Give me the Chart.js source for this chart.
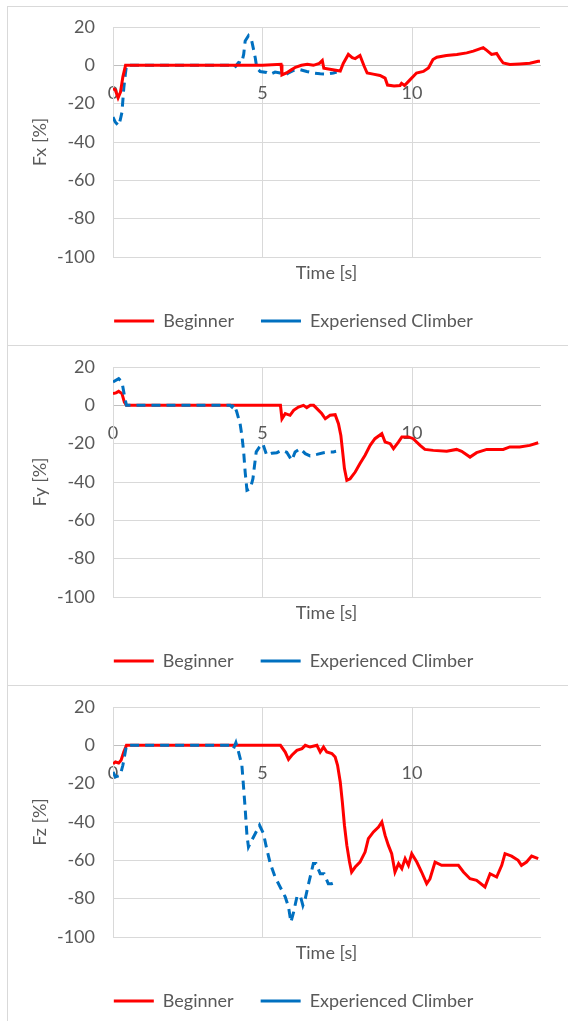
<!DOCTYPE html>
<html>
<head>
<meta charset="utf-8">
<script src="https://cdn.jsdelivr.net/npm/chart.js@4.4.1/dist/chart.umd.min.js"></script>
<style>
  html, body { margin: 0; padding: 0; background: #fff; overflow: hidden; }
  body { width: 568px; height: 1021px; position: relative; }
  .panel { position: absolute; left: 7px; width: 620px; border: 1px solid #d9d9d9; box-sizing: border-box; }
  canvas { position: absolute; left: 0; }
</style>
</head>
<body>
<div class="panel" style="top:6px;height:340px"></div>
<div class="panel" style="top:345px;height:341px"></div>
<div class="panel" style="top:685px;height:400px"></div>
<canvas id="fxChart" width="568" height="340" style="top:5px"></canvas>
<canvas id="fyChart" width="568" height="340" style="top:345px"></canvas>
<canvas id="fzChart" width="568" height="340" style="top:685px"></canvas>
<script>
// axes
var timeMin = 0;
var timeMax = 14.28;
var timeTicks = [0, 5, 10];
var forceMin = -100;
var forceMax = 20;
var forceStep = 20;

// legend names (panel 1 has the typo in the original)
var beginnerName = 'Beginner';
var expNameFx = 'Experiensed Climber';
var expNameFyz = 'Experienced Climber';

// Fx
var fxBeginnerT = [0, 0.08, 0.17, 0.25, 0.33, 0.42, 1, 2, 3, 4, 5, 5.62, 5.65, 5.8, 5.95, 6.1, 6.3, 6.5, 6.7, 6.9, 7.0, 7.05, 7.35, 7.6, 7.7, 7.87, 8.0, 8.1, 8.26, 8.4, 8.5, 8.7, 8.93, 9.1, 9.18, 9.4, 9.6, 9.65, 9.75, 9.93, 10.15, 10.38, 10.55, 10.7, 10.83, 11.15, 11.5, 11.83, 12.05, 12.38, 12.5, 12.66, 12.83, 12.94, 13.05, 13.27, 13.6, 13.94, 14.22, 14.28];
var fxBeginnerV = [-12, -13, -17, -14, -6, 0, 0, 0, 0, 0, 0, 0.5, -5, -4, -2.5, -1, 0, 0.5, 0, 1, 2.5, -1.5, -2.3, -3, 1, 5.7, 4, 3.5, 5.1, -0.5, -4, -4.6, -5.3, -6.7, -10.3, -10.8, -10.5, -9.4, -10.5, -7.6, -4, -3.2, -1.4, 3, 4.2, 5.1, 5.7, 6.5, 7.4, 9.2, 7.8, 5.7, 6.2, 3.5, 1.2, 0.4, 0.7, 1.1, 2.1, 2.2];
var fxExpT = [0, 0.08, 0.19, 0.25, 0.3, 0.36, 0.41, 0.45, 1, 2, 3, 3.9, 4.0, 4.1, 4.2, 4.3, 4.37, 4.42, 4.53, 4.64, 4.7, 4.76, 4.81, 4.92, 5.14, 5.26, 5.42, 5.59, 5.76, 5.87, 6.04, 6.26, 6.48, 6.7, 6.93, 7.15, 7.37, 7.48];
var fxExpV = [-27, -29.7, -31.5, -28, -24.4, -12, -5, 0, 0, 0, 0, 0, 0.8, -0.5, 1.5, 1, 5.7, 12.7, 15.4, 12.7, 8.3, 3.7, -1.4, -3.2, -3.7, -4.6, -3.5, -4, -5, -4, -2.7, -2.3, -3.2, -4, -4.4, -4.6, -4, -3.5];

// Fy
var fyBeginnerT = [0, 0.1, 0.19, 0.3, 0.38, 0.45, 1, 2, 3, 4, 5, 5.6, 5.65, 5.76, 5.92, 6.04, 6.2, 6.37, 6.48, 6.6, 6.71, 6.82, 6.98, 7.1, 7.26, 7.43, 7.54, 7.62, 7.68, 7.74, 7.82, 7.93, 8.1, 8.26, 8.43, 8.6, 8.76, 8.99, 9.1, 9.27, 9.38, 9.55, 9.66, 9.88, 10.04, 10.27, 10.43, 10.71, 11.16, 11.49, 11.66, 11.94, 12.16, 12.5, 12.83, 13.05, 13.27, 13.6, 13.94, 14.22];
var fyBeginnerV = [6.1, 6.5, 7.3, 6.1, 1.7, 0, 0, 0, 0, 0, 0, 0, -7, -4.3, -5.2, -2.6, -0.9, 0, -1.2, 0, 0, -1.7, -4.3, -7, -5.2, -4.9, -9.6, -15.7, -24.3, -33, -39.1, -38.3, -34.8, -30.4, -26, -20.9, -17.4, -14.8, -19.1, -20, -22.6, -19.1, -16.5, -16.5, -17.4, -20.9, -23, -23.5, -24, -23, -24, -27, -24.7, -23, -23, -23, -21.7, -21.7, -20.9, -19.5];
var fyExpT = [0, 0.19, 0.3, 0.38, 0.45, 1, 2, 3, 3.92, 3.98, 4.05, 4.14, 4.25, 4.31, 4.37, 4.42, 4.48, 4.59, 4.68, 4.72, 4.79, 4.9, 5.01, 5.14, 5.31, 5.48, 5.65, 5.81, 5.98, 6.09, 6.26, 6.43, 6.59, 6.82, 7.04, 7.2, 7.37, 7.46];
var fyExpV = [12.2, 13.9, 12.2, 5.2, 0, 0, 0, 0, 0, -0.9, 0.5, -3.5, -9.6, -15.7, -24.3, -34.8, -44.3, -43.5, -38.3, -33, -24.3, -21.7, -20, -26, -25, -24.7, -23.5, -24.5, -28.7, -24.3, -22.6, -25.2, -26.4, -25.6, -24.7, -24.3, -24.3, -24];

// Fz
var fzBeginnerT = [0, 0.08, 0.19, 0.27, 0.36, 0.45, 1, 2, 3, 4, 5, 5.6, 5.76, 5.87, 5.98, 6.15, 6.32, 6.43, 6.59, 6.82, 6.93, 7.04, 7.15, 7.32, 7.43, 7.51, 7.6, 7.67, 7.74, 7.82, 7.91, 7.98, 8.1, 8.26, 8.43, 8.54, 8.71, 8.88, 8.99, 9.1, 9.21, 9.32, 9.43, 9.55, 9.66, 9.77, 9.88, 9.99, 10.16, 10.32, 10.49, 10.6, 10.77, 10.99, 11.27, 11.55, 11.72, 11.94, 12.16, 12.44, 12.61, 12.83, 13.0, 13.11, 13.33, 13.55, 13.66, 13.83, 14.0, 14.22];
var fzBeginnerV = [-9.6, -8.7, -9.2, -7.8, -3.5, 0, 0, 0, 0, 0, 0, 0, -3.5, -7.3, -5.2, -2.6, -1.7, 0, -0.9, 0, -3.5, -0.9, -3.5, -4.3, -6.1, -10.4, -19.1, -29.6, -41.7, -52.2, -60.9, -66.1, -63.5, -60.9, -55.7, -48.7, -45.2, -42.6, -40, -47, -52.2, -56.5, -66.1, -61.7, -64.3, -59.1, -62.6, -56.5, -60.9, -66.1, -72.2, -69.6, -60.9, -62.6, -62.6, -62.6, -66.1, -69.6, -70.4, -73.9, -67, -68.7, -62.6, -56.5, -57.8, -60, -62.6, -60.9, -57.8, -59.1];
var fzExpT = [0, 0.08, 0.24, 0.33, 0.45, 1, 2, 3, 3.92, 4.03, 4.11, 4.2, 4.31, 4.37, 4.42, 4.48, 4.53, 4.64, 4.76, 4.9, 5.03, 5.14, 5.26, 5.42, 5.59, 5.76, 5.87, 5.95, 6.04, 6.15, 6.26, 6.35, 6.43, 6.54, 6.7, 6.79, 6.93, 7.06, 7.2, 7.31, 7.46];
var fzExpV = [-13.9, -16.5, -15.7, -10.4, 0, 0, 0, 0, 0, -1.7, 1.4, -3.5, -10.4, -22.6, -33, -47, -53, -49.6, -46, -41.7, -46, -53.9, -61.7, -68.7, -73.9, -79.1, -84.3, -92.2, -87, -79.1, -78.3, -83.5, -80, -72.2, -61.7, -61.7, -67, -67, -72.2, -72.2, -71.3];

var textColor = '#595959';
var gridColor = '#d9d9d9';
var zeroColor = '#bfbfbf';

Chart.defaults.font.family = 'Lato, "Open Sans", sans-serif';
Chart.defaults.font.size = 18;
Chart.defaults.color = textColor;

function toPoints(t, v) {
    return t.map(function (x, i) { return { x: x, y: v[i] }; });
}

function keepTimeTicks(scale) {
    scale.ticks = timeTicks.map(function (v) { return { value: v }; });
}

// legend sits a bit right of center in the original
var shiftLegend = {
    id: 'shiftLegend',
    afterLayout: function (chart) {
        chart.legend.left += 11;
        chart.legend.right += 11;
    }
};

function makeChart(id, yTitle, begT, begV, expT, expV, expName, expOnTop) {
    var ctx = document.getElementById(id).getContext('2d');
    return new Chart(ctx, {
        type: 'line',
        data: {
            datasets: [{
                label: beginnerName,
                data: toPoints(begT, begV),
                borderColor: '#ff0000',
                backgroundColor: '#ff0000',
                borderWidth: 3,
                pointRadius: 0,
                fill: false,
                order: expOnTop ? 1 : 0
            }, {
                label: expName,
                data: toPoints(expT, expV),
                borderColor: '#0070c0',
                backgroundColor: '#0070c0',
                borderWidth: 3,
                borderDash: [9, 6],
                pointRadius: 0,
                fill: false,
                order: expOnTop ? 0 : 1
            }]
        },
        options: {
            responsive: false,
            animation: false,
            devicePixelRatio: 1,
            layout: { padding: { left: 25, right: 28, top: 22, bottom: 5 } },
            plugins: {
                tooltip: { enabled: false },
                legend: {
                    position: 'bottom',
                    labels: {
                        usePointStyle: true,
                        pointStyle: 'line',
                        pointStyleWidth: 40,
                        padding: 27,
                        color: textColor,
                        sort: function (a, b) { return a.datasetIndex - b.datasetIndex; }
                    }
                }
            },
            scales: {
                x: {
                    type: 'linear',
                    position: 'bottom',
                    min: timeMin,
                    max: timeMax,
                    afterBuildTicks: keepTimeTicks,
                    afterFit: function (s) { s.height = 28; },
                    ticks: { display: false },
                    grid: { color: gridColor, drawTicks: false },
                    border: { color: gridColor },
                    title: { display: true, text: 'Time [s]', color: textColor, padding: { top: 0, bottom: 1 } }
                },
                xZero: {
                    type: 'linear',
                    axis: 'x',
                    position: { y: 0 },
                    min: timeMin,
                    max: timeMax,
                    afterBuildTicks: keepTimeTicks,
                    afterFit: function (s) { s.height = 0; },
                    ticks: { padding: 17, color: textColor },
                    grid: { display: false, drawTicks: false },
                    border: { color: zeroColor, width: 1 }
                },
                y: {
                    min: forceMin,
                    max: forceMax,
                    afterFit: function (s) {
                        s.width = 88;
                        s.paddingTop = 0;
                        s.paddingBottom = 0;
                    },
                    ticks: { stepSize: forceStep, padding: 18, color: textColor },
                    grid: {
                        drawTicks: false,
                        color: function (c) { return c.tick && c.tick.value === 0 ? zeroColor : gridColor; }
                    },
                    border: { color: gridColor },
                    title: { display: true, text: yTitle, color: textColor }
                }
            }
        },
        plugins: [shiftLegend]
    });
}

makeChart('fxChart', 'Fx [%]', fxBeginnerT, fxBeginnerV, fxExpT, fxExpV, expNameFx, false);
makeChart('fyChart', 'Fy [%]', fyBeginnerT, fyBeginnerV, fyExpT, fyExpV, expNameFyz, true);
makeChart('fzChart', 'Fz [%]', fzBeginnerT, fzBeginnerV, fzExpT, fzExpV, expNameFyz, true);
</script>
</body>
</html>
